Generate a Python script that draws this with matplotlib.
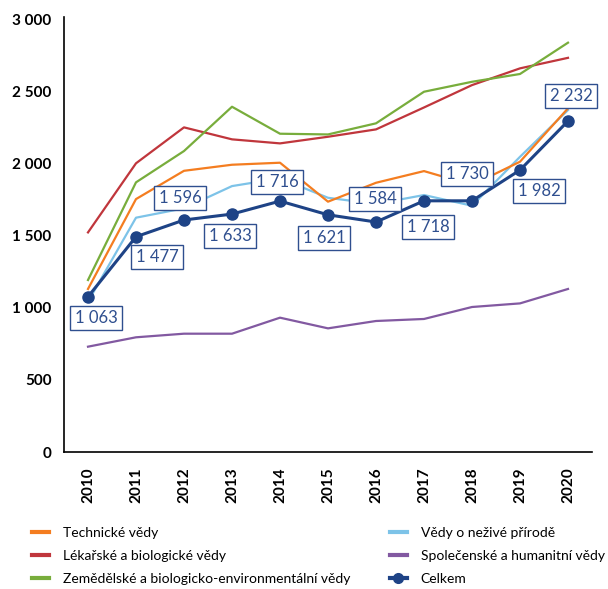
import matplotlib.pyplot as plt
from matplotlib.lines import Line2D
from matplotlib.ticker import FuncFormatter

plt.rcParams['font.family'] = ['Lato', 'DejaVu Sans']

years = list(range(2010, 2021))

technicke = [1130, 1753, 1949, 1991, 2005, 1735, 1866, 1947, 1850, 2012, 2382]
lekarske = [1522, 2001, 2250, 2167, 2139, 2185, 2236, 2388, 2543, 2659, 2732]
zemedelske = [1192, 1869, 2086, 2393, 2206, 2201, 2278, 2497, 2566, 2620, 2837]
nezive = [1042, 1624, 1689, 1843, 1897, 1762, 1719, 1781, 1707, 2046, 2370]
spolecenske = [730, 795, 820, 820, 931, 857, 908, 922, 1005, 1030, 1130]
celkem = [1076, 1492, 1608, 1649, 1739, 1644, 1594, 1741, 1741, 1954, 2294]
celkem_popisky = [1063, 1477, 1596, 1633, 1716, 1621, 1584, 1718, 1730, 1982, 2232]

# label offsets in pixels from the point
offsets = [(8, -21), (21, -20), (-4, 22), (-2, -22), (-3, 19), (-4, -23),
           (-1, 23), (4, -26), (-5, 27), (19, -21), (3, 25)]

c_tech = '#f47d20'
c_lek = '#c0363c'
c_zem = '#78ad3c'
c_nez = '#7dc3e8'
c_spol = '#8259a1'
c_celk = '#1e4386'
c_text = '#2f4f8f'

fig = plt.figure(figsize=(6.08, 5.89), dpi=100)
ax = fig.add_axes([64 / 608, 1 - 452 / 589, 528 / 608, 435 / 589])

ax.plot(years, spolecenske, color=c_spol, lw=1.6)
ax.plot(years, nezive, color=c_nez, lw=1.6)
ax.plot(years, technicke, color=c_tech, lw=1.6)
ax.plot(years, lekarske, color=c_lek, lw=1.6)
ax.plot(years, zemedelske, color=c_zem, lw=1.6)
ax.plot(years, celkem, color=c_celk, lw=2.2, marker='o', ms=8)


def fmt(v, pos=None):
    return f'{int(v):,}'.replace(',', ' ')


for x, y, lab, (dx, dy) in zip(years, celkem, celkem_popisky, offsets):
    ax.annotate(fmt(lab), (x, y), xytext=(dx, dy), textcoords='offset pixels',
                ha='center', va='center', fontsize=12, color=c_text, zorder=10,
                bbox=dict(boxstyle='square,pad=0.25', fc='white', ec=c_text, lw=1))

ax.set_xlim(2009.5, 2020.5)
ax.set_ylim(0, 3015)
ax.set_yticks(range(0, 3001, 500))
ax.yaxis.set_major_formatter(FuncFormatter(fmt))
ax.set_xticks(years)
ax.set_xticklabels([str(y) for y in years], rotation=90, fontweight='bold', fontsize=11)
for t in ax.get_yticklabels():
    t.set_fontweight('bold')
    t.set_fontsize(11)
ax.tick_params(length=0)
ax.tick_params(axis='y', pad=9)
ax.tick_params(axis='x', pad=11)
ax.spines['top'].set_visible(False)
ax.spines['right'].set_visible(False)
ax.spines['left'].set_linewidth(1.2)
ax.spines['bottom'].set_linewidth(1.2)

h1 = [Line2D([], [], color=c_tech, lw=3),
      Line2D([], [], color=c_lek, lw=3),
      Line2D([], [], color=c_zem, lw=3)]
l1 = ['Technické vědy', 'Lékařské a biologické vědy',
      'Zemědělské a biologicko-environmentální vědy']
h2 = [Line2D([], [], color=c_nez, lw=3),
      Line2D([], [], color=c_spol, lw=3),
      Line2D([], [], color=c_celk, lw=3, marker='o', ms=7)]
l2 = ['Vědy o neživé přírodě', 'Společenské a humanitní vědy', 'Celkem']

kw = dict(frameon=False, fontsize=10, handlelength=1.2, handletextpad=1.0,
          labelspacing=0.8, loc='upper left', borderaxespad=0, borderpad=0)
fig.legend(h1, l1, bbox_to_anchor=(32 / 608, 1 - 527 / 589), **kw)
fig.legend(h2, l2, bbox_to_anchor=(390 / 608, 1 - 527 / 589), **kw)

fig.savefig('out.png', dpi=100)
